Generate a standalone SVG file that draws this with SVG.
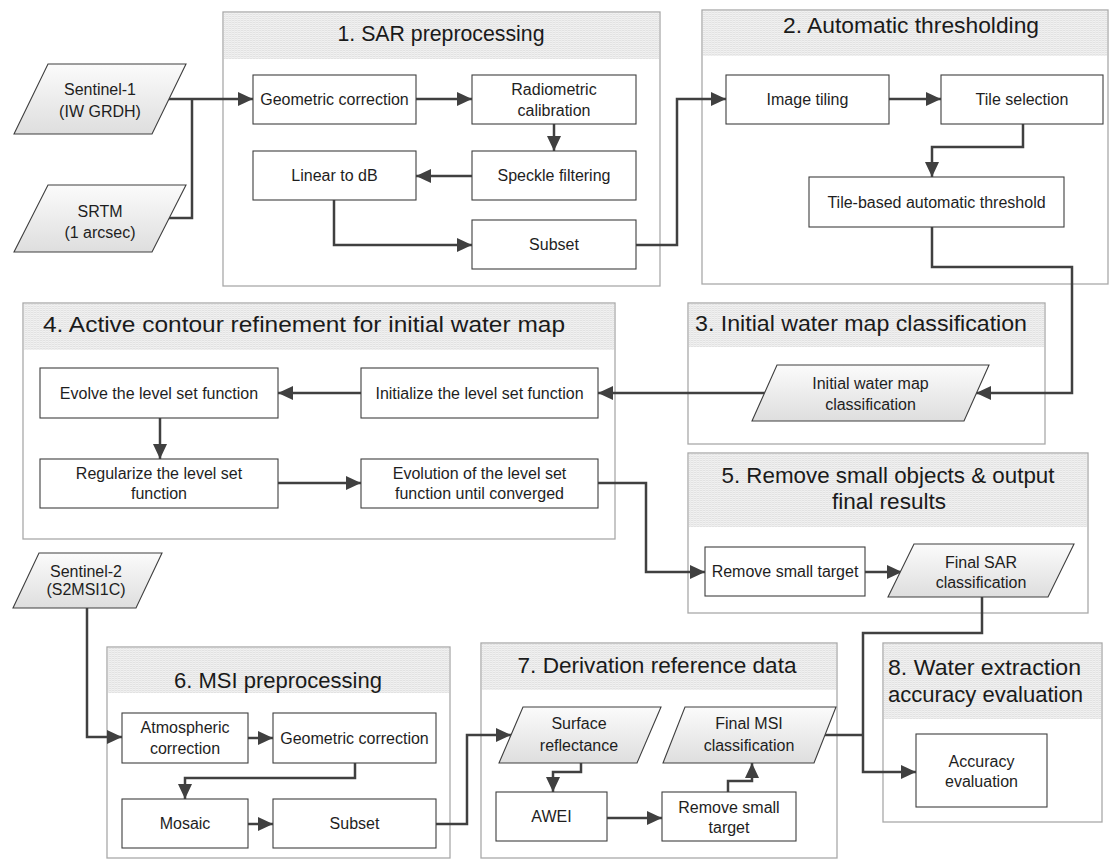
<svg xmlns="http://www.w3.org/2000/svg" width="1110" height="861" viewBox="0 0 1110 861">
<style>
.frame{fill:#ffffff;stroke:#a9a9a9;stroke-width:1.3}
.band{fill:url(#hatch);stroke:none}
.box{fill:#ffffff;stroke:#3f3f3f;stroke-width:1.1}
.para{fill:url(#pg);stroke:#3f3f3f;stroke-width:1.1}
.t{font-family:"Liberation Sans",Arial,sans-serif;font-size:16px;fill:#1e1e1e;text-anchor:middle}
.h{font-family:"Liberation Sans",Arial,sans-serif;font-size:22px;fill:#1a1a1a;text-anchor:middle}
.hs{font-family:"Liberation Sans",Arial,sans-serif;font-size:22px;fill:#1a1a1a;text-anchor:start}
.c{fill:none;stroke:#404040;stroke-width:2.5;stroke-linejoin:miter}
.a{marker-end:url(#arr)}
</style>
<defs>
<pattern id="hatch" width="3" height="2" patternUnits="userSpaceOnUse">
<rect width="3" height="2" fill="#f1f1f1"/>
<rect width="3" height="1" fill="#e2e2e2"/>
<rect width="1" height="2" fill="#ebebeb"/>
</pattern>
<linearGradient id="pg" x1="0" y1="0" x2="0" y2="1">
<stop offset="0" stop-color="#fbfbfb"/>
<stop offset="1" stop-color="#dedede"/>
</linearGradient>
<marker id="arr" markerUnits="userSpaceOnUse" markerWidth="16" markerHeight="14" refX="15" refY="7" orient="auto">
<path d="M0,0 L15,7 L0,14 z" fill="#404040"/>
</marker>
</defs>

<g id="group1">
<rect class="frame" x="223" y="12" width="437" height="274"/>
<rect class="band" x="224" y="13" width="435" height="46"/>
<text class="h" x="441" y="41" textLength="207" lengthAdjust="spacingAndGlyphs">1. SAR preprocessing</text>
</g>
<g id="group2">
<rect class="frame" x="702" y="10" width="406" height="274"/>
<rect class="band" x="703" y="11" width="404" height="45"/>
<text class="h" x="911" y="33" textLength="256" lengthAdjust="spacingAndGlyphs">2. Automatic thresholding</text>
</g>
<g id="group3">
<rect class="frame" x="688" y="303" width="357" height="141"/>
<rect class="band" x="689" y="304" width="355" height="43"/>
<text class="h" x="861" y="331" textLength="332" lengthAdjust="spacingAndGlyphs">3. Initial water map classification</text>
</g>
<g id="group4">
<rect class="frame" x="23" y="303" width="592" height="236"/>
<rect class="band" x="24" y="304" width="590" height="46"/>
<text class="h" x="304" y="332" textLength="522" lengthAdjust="spacingAndGlyphs">4. Active contour refinement for initial water map</text>
</g>
<g id="group5">
<rect class="frame" x="688" y="453" width="400" height="160"/>
<rect class="band" x="689" y="454" width="398" height="73"/>
<text class="h" x="888" y="483" textLength="333" lengthAdjust="spacingAndGlyphs">5. Remove small objects &amp; output</text>
<text class="h" x="889" y="509" textLength="114" lengthAdjust="spacingAndGlyphs">final results</text>
</g>
<g id="group6">
<rect class="frame" x="107" y="647" width="343" height="211"/>
<rect class="band" x="108" y="648" width="341" height="45"/>
<text class="h" x="278" y="688" textLength="208" lengthAdjust="spacingAndGlyphs">6. MSI preprocessing</text>
</g>
<g id="group7">
<rect class="frame" x="481" y="643" width="356" height="215"/>
<rect class="band" x="482" y="644" width="354" height="46"/>
<text class="h" x="657" y="673" textLength="279" lengthAdjust="spacingAndGlyphs">7. Derivation reference data</text>
</g>
<g id="group8">
<rect class="frame" x="883" y="643" width="219" height="179"/>
<rect class="band" x="884" y="644" width="217" height="75"/>
<text class="hs" x="888" y="675" textLength="193" lengthAdjust="spacingAndGlyphs">8. Water extraction</text>
<text class="hs" x="888" y="702" textLength="195" lengthAdjust="spacingAndGlyphs">accuracy evaluation</text>
</g>

<g id="connectors">
<path class="c a" d="M169,99 H253"/>
<path class="c" d="M168,218 H192 V99"/>
<path class="c a" d="M416,99 H472"/>
<path class="c a" d="M554,124 V151"/>
<path class="c a" d="M472,176 H416"/>
<path class="c a" d="M334,200 V245 H472"/>
<path class="c a" d="M636,245 H677 V99 H726"/>
<path class="c a" d="M889,99 H941"/>
<path class="c a" d="M1023,124 V147 H932 V177"/>
<path class="c a" d="M932,227 V267 H1072 V393 H976"/>
<path class="c a" d="M765,393 H598"/>
<path class="c a" d="M361,393 H278"/>
<path class="c a" d="M160,418 V459"/>
<path class="c a" d="M278,483 H361"/>
<path class="c a" d="M598,483 H646 V572 H705"/>
<path class="c a" d="M865,572 H902"/>
<path class="c a" d="M982,597 V633 H863 V772 H916"/>
<path class="c" d="M825,735 H863"/>
<path class="c a" d="M87,608 V737 H122"/>
<path class="c a" d="M248,738 H273"/>
<path class="c a" d="M355,763 V778 H185 V799"/>
<path class="c a" d="M248,824 H273"/>
<path class="c a" d="M436,824 H467 V735 H511"/>
<path class="c a" d="M581,763 V772 H553 V792"/>
<path class="c a" d="M607,818 H662"/>
<path class="c a" d="M728,792 V781 H752 V763"/>
</g>

<g id="sentinel1">
<polygon class="para" points="48,64 186,64 152,134 14,134"/>
<text class="t" x="100" y="95">Sentinel-1</text>
<text class="t" x="100" y="117">(IW GRDH)</text>
</g>
<g id="srtm">
<polygon class="para" points="48,185 186,185 152,252 14,252"/>
<text class="t" x="100" y="217">SRTM</text>
<text class="t" x="100" y="238">(1 arcsec)</text>
</g>
<g id="geo1"><rect class="box" x="253" y="75" width="163" height="49"/><text class="t" x="334.5" y="105">Geometric correction</text></g>
<g id="radiometric"><rect class="box" x="472" y="75" width="164" height="49"/><text class="t" x="554" y="95">Radiometric</text><text class="t" x="554" y="116">calibration</text></g>
<g id="speckle"><rect class="box" x="472" y="151" width="164" height="49"/><text class="t" x="554" y="181">Speckle filtering</text></g>
<g id="lineardb"><rect class="box" x="253" y="151" width="163" height="49"/><text class="t" x="334.5" y="181">Linear to dB</text></g>
<g id="subset1"><rect class="box" x="472" y="220" width="164" height="49"/><text class="t" x="554" y="250">Subset</text></g>
<g id="tiling"><rect class="box" x="726" y="75" width="163" height="49"/><text class="t" x="807.5" y="105">Image tiling</text></g>
<g id="selection"><rect class="box" x="941" y="75" width="162" height="49"/><text class="t" x="1022" y="105">Tile selection</text></g>
<g id="tilebased"><rect class="box" x="809" y="177" width="255" height="50"/><text class="t" x="936.5" y="208">Tile-based automatic threshold</text></g>
<g id="initialmap">
<polygon class="para" points="777,365 989,365 964,421 752,421"/>
<text class="t" x="870.5" y="389">Initial water map</text>
<text class="t" x="870.5" y="410">classification</text>
</g>
<g id="initialize"><rect class="box" x="361" y="368" width="237" height="50"/><text class="t" x="479.5" y="399">Initialize the level set function</text></g>
<g id="evolve"><rect class="box" x="40" y="368" width="238" height="50"/><text class="t" x="159" y="399">Evolve the level set function</text></g>
<g id="regularize"><rect class="box" x="40" y="459" width="238" height="49"/><text class="t" x="159" y="479">Regularize the level set</text><text class="t" x="159" y="499">function</text></g>
<g id="evolution"><rect class="box" x="361" y="459" width="237" height="49"/><text class="t" x="479.5" y="479">Evolution of the level set</text><text class="t" x="479.5" y="499">function until converged</text></g>
<g id="remove1"><rect class="box" x="705" y="547" width="160" height="49"/><text class="t" x="785" y="577">Remove small target</text></g>
<g id="finalsar">
<polygon class="para" points="914,544 1074,544 1048,597 888,597"/>
<text class="t" x="981" y="568">Final SAR</text>
<text class="t" x="981" y="588">classification</text>
</g>
<g id="sentinel2">
<polygon class="para" points="39,553 162,553 136,608 13,608"/>
<text class="t" x="86" y="577">Sentinel-2</text>
<text class="t" x="86" y="595">(S2MSI1C)</text>
</g>
<g id="atmospheric"><rect class="box" x="122" y="713" width="126" height="50"/><text class="t" x="185" y="733">Atmospheric</text><text class="t" x="185" y="754">correction</text></g>
<g id="geo2"><rect class="box" x="273" y="713" width="163" height="50"/><text class="t" x="354.5" y="744">Geometric correction</text></g>
<g id="mosaic"><rect class="box" x="122" y="799" width="126" height="49"/><text class="t" x="185" y="829">Mosaic</text></g>
<g id="subset2"><rect class="box" x="273" y="799" width="163" height="49"/><text class="t" x="354.5" y="829">Subset</text></g>
<g id="surface">
<polygon class="para" points="523,707 661,707 637,763 499,763"/>
<text class="t" x="579" y="729">Surface</text>
<text class="t" x="579" y="751">reflectance</text>
</g>
<g id="finalmsi">
<polygon class="para" points="685,707 836,707 814,763 663,763"/>
<text class="t" x="749" y="729">Final MSI</text>
<text class="t" x="749" y="751">classification</text>
</g>
<g id="awei"><rect class="box" x="496" y="792" width="111" height="49"/><text class="t" x="551.5" y="822">AWEI</text></g>
<g id="remove2"><rect class="box" x="662" y="792" width="134" height="49"/><text class="t" x="729" y="813">Remove small</text><text class="t" x="729" y="833">target</text></g>
<g id="accuracy"><rect class="box" x="916" y="734" width="131" height="73"/><text class="t" x="981.5" y="767">Accuracy</text><text class="t" x="981.5" y="787">evaluation</text></g>
</svg>
